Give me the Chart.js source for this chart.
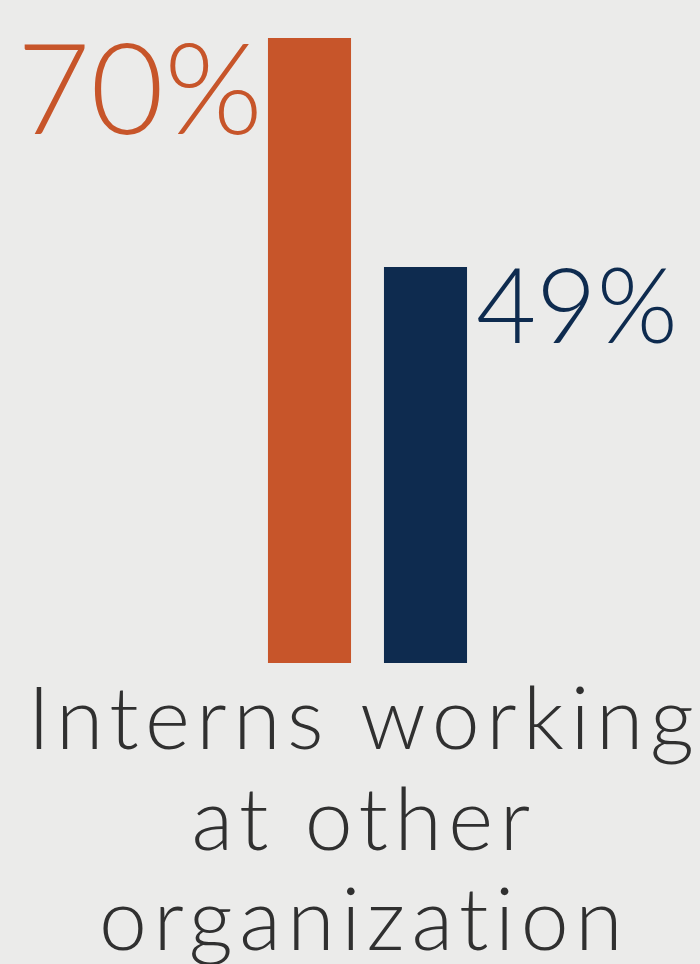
<!DOCTYPE html>
<html>
<head>
<meta charset="utf-8">
<script src="https://cdn.jsdelivr.net/npm/chart.js@4"></script>
<style>
  html, body { margin: 0; padding: 0; background: #ebebea; }
  #wrap { width: 700px; height: 964px; position: relative; }
</style>
</head>
<body>
<div id="wrap"><canvas id="c"></canvas></div>
<script>
/* two-bar infographic: share of interns working at other organization */
const categories = ["Bar 1", "Bar 2"];
const values = [70, 49];
const valueLabels = ["70%", "49%"];
const barColors = ["#c7552a", "#0e2b4f"];
const captionLines = ["Interns working", "at other", "organization"];

const FONT = "Lato, 'Open Sans', sans-serif";

// percent labels beside the bars: first to the left, second to the right
const valueLabelPlugin = {
  id: "valueLabels",
  afterDatasetsDraw(chart) {
    const ctx = chart.ctx;
    const meta = chart.getDatasetMeta(0);
    ctx.save();
    ctx.textBaseline = "top";
    meta.data.forEach((bar, i) => {
      const half = bar.width / 2;
      ctx.fillStyle = barColors[i];
      if (i === 0) {
        ctx.font = `300 127px ${FONT}`;
        ctx.textAlign = "right";
        ctx.fillText(valueLabels[i], bar.x - half - 5, bar.y - 8);
      } else {
        ctx.font = `300 104px ${FONT}`;
        ctx.textAlign = "left";
        ctx.fillText(valueLabels[i], bar.x + half + 9, bar.y - 10);
      }
    });
    ctx.restore();
  }
};

// caption under the bars
const captionPlugin = {
  id: "caption",
  afterDraw(chart) {
    const ctx = chart.ctx;
    ctx.save();
    ctx.font = `300 86px ${FONT}`;
    ctx.letterSpacing = "6.5px";
    ctx.fillStyle = "#303030";
    ctx.textAlign = "center";
    ctx.textBaseline = "alphabetic";
    const baselines = [749, 850, 950];
    captionLines.forEach((line, i) => ctx.fillText(line, 364, baselines[i]));
    ctx.restore();
  }
};

new Chart(document.getElementById("c"), {
  type: "bar",
  data: {
    labels: categories,
    datasets: [{
      data: values,
      backgroundColor: barColors,
      borderWidth: 0,
      barPercentage: 1,
      categoryPercentage: 0.716,
    }],
  },
  options: {
    responsive: true, maintainAspectRatio: false, animation: false,
    layout: { padding: { left: 251.5, right: 216.5, top: 38, bottom: 301 } },
    plugins: { legend: { display: false }, tooltip: { enabled: false } },
    scales: {
      x: { display: false },
      y: { display: false, min: 12.7, max: 70 },
    },
  },
  plugins: [valueLabelPlugin, captionPlugin],
});
</script>
</body>
</html>
